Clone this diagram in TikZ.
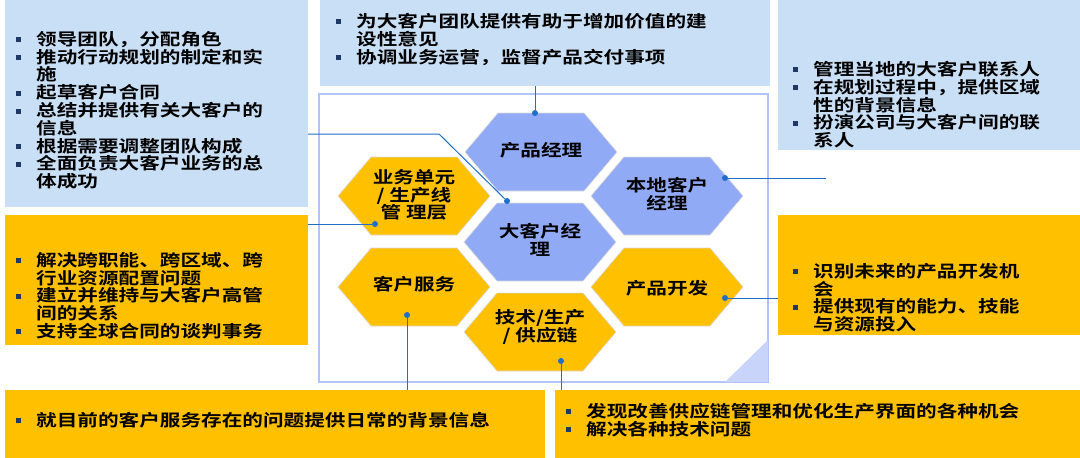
\documentclass[tikz,border=0pt]{standalone}
\usepackage{fontspec}
\setmainfont{Noto Sans CJK SC}[FakeStretch=1.25,BoldFont={Noto Sans CJK SC Bold}]
\definecolor{lblue}{HTML}{C9DFF5}
\definecolor{orng}{HTML}{FFC000}
\definecolor{hexb}{HTML}{91AAF5}
\definecolor{navy}{HTML}{1F3864}
\definecolor{lnk}{HTML}{1F6FC8}
\newcommand\bul{\makebox[20pt][l]{\raisebox{3pt}{\color{navy}\rule{5pt}{5pt}}}}
\newcommand\cnt{\hspace*{20pt}}
\tikzset{
 panel/.style={inner sep=0pt,draw=none},
 txt/.style={anchor=north west,inner sep=0pt,align=left,font=\fontsize{16.5}{17.8}\selectfont\bfseries},
 hextxt/.style={inner sep=0pt,align=center,font=\fontsize{16.5}{17.8}\selectfont\bfseries},
 lk/.style={draw=lnk,line width=1pt},
 dot/.style={circle,fill=lnk,inner sep=0pt,minimum size=6pt}
}
\newcommand\hexa[3]{\fill[#3,draw=black!15,line width=0.6pt] (#1-76,#2) -- (#1-43,#2-39) -- (#1+43,#2-39) -- (#1+76,#2) -- (#1+43,#2+39) -- (#1-43,#2+39) -- cycle;}
\begin{document}
\begin{tikzpicture}[x=1pt,y=-1pt]
\useasboundingbox (0,0) rectangle (1080,458);
% panels
\fill[lblue] (5,0) rectangle (308,207);
\fill[lblue] (320,0) rectangle (770,86);
\fill[lblue] (778,0) rectangle (1080,150);
\fill[orng] (5,215) rectangle (308,345);
\fill[orng] (778,215) rectangle (1080,335);
\fill[orng] (5,390) rectangle (545,458);
\fill[orng] (555,390) rectangle (1080,458);
% frame
\draw[hexb!70,line width=2.5pt,fill=white] (319,94) rectangle (768,382);
\fill[hexb!50] (768,340) -- (768,382) -- (725,382) -- cycle;
% hexagons
\hexa{541}{152}{hexb}
\hexa{667}{196}{hexb}
\hexa{414}{196}{orng}
\hexa{540}{242}{hexb}
\hexa{414}{287}{orng}
\hexa{667}{287}{orng}
\hexa{540}{332}{orng}
\node[hextxt] (pm) at (541,150) {产品经理};
\node[hextxt] (lam) at (667,194) {本地客户\\经理};
\node[hextxt] (bu) at (414,195) {业务单元\\/ 生产线\\管 理层};
\node[hextxt] (kam) at (540,240) {大客户经\\理};
\node[hextxt] (cs) at (414,284) {客户服务};
\node[hextxt] (pd) at (667,288) {产品开发};
\node[hextxt] (tech) at (540,327) {技术/生产\\/ 供应链};
% texts
\node[txt] (t1) at (16,31) {\bul 领导团队，分配角色\\\bul 推动行动规划的制定和实\\\cnt 施\\\bul 起草客户合同\\\bul 总结并提供有关大客户的\\\cnt 信息\\\bul 根据需要调整团队构成\\\bul 全面负责大客户业务的总\\\cnt 体成功};
\node[txt] (t2) at (336,13) {\bul 为大客户团队提供有助于增加价值的建\\\cnt 设性意见\\\bul 协调业务运营，监督产品交付事项};
\node[txt] (t3) at (793,61) {\bul 管理当地的大客户联系人\\\bul 在规划过程中，提供区域\\\cnt 性的背景信息\\\bul 扮演公司与大客户间的联\\\cnt 系人};
\node[txt] (t4) at (16,252) {\bul 解决跨职能、跨区域、跨\\\cnt 行业资源配置问题\\\bul 建立并维持与大客户高管\\\cnt 间的关系\\\bul 支持全球合同的谈判事务};
\node[txt] (t5) at (793,263) {\bul 识别未来的产品开发机\\\cnt 会\\\bul 提供现有的能力、技能\\\cnt 与资源投入};
\node[txt] (t6) at (16,412) {\bul 就目前的客户服务存在的问题提供日常的背景信息};
\node[txt] (t7) at (566,403) {\bul 发现改善供应链管理和优化生产界面的各种机会\\\bul 解决各种技术问题};
% connectors
\node[dot] (d1) at (535,113) {};
\coordinate (e1) at (535,86);
\draw[lk] (d1) -- (e1);
\node[dot] (d2) at (507,201) {};
\coordinate (e2) at (308,134); \coordinate (k2) at (439,134);
\draw[lk] (e2) -- (k2) -- (d2);
\node[dot] (d3) at (375,224) {};
\coordinate (e3) at (308,224);
\draw[lk] (d3) -- (e3);
\node[dot] (d4) at (725,178) {};
\coordinate (e4) at (826,178);
\draw[lk] (d4) -- (e4);
\node[dot] (d5) at (725,298) {};
\coordinate (e5) at (778,298);
\draw[lk] (d5) -- (e5);
\node[dot] (d6) at (407,315) {};
\coordinate (e6) at (407,390);
\draw[lk] (d6) -- (e6);
\node[dot] (d7) at (561,361) {};
\coordinate (e7) at (561,390);
\draw[lk] (d7) -- (e7);
\end{tikzpicture}
\end{document}
